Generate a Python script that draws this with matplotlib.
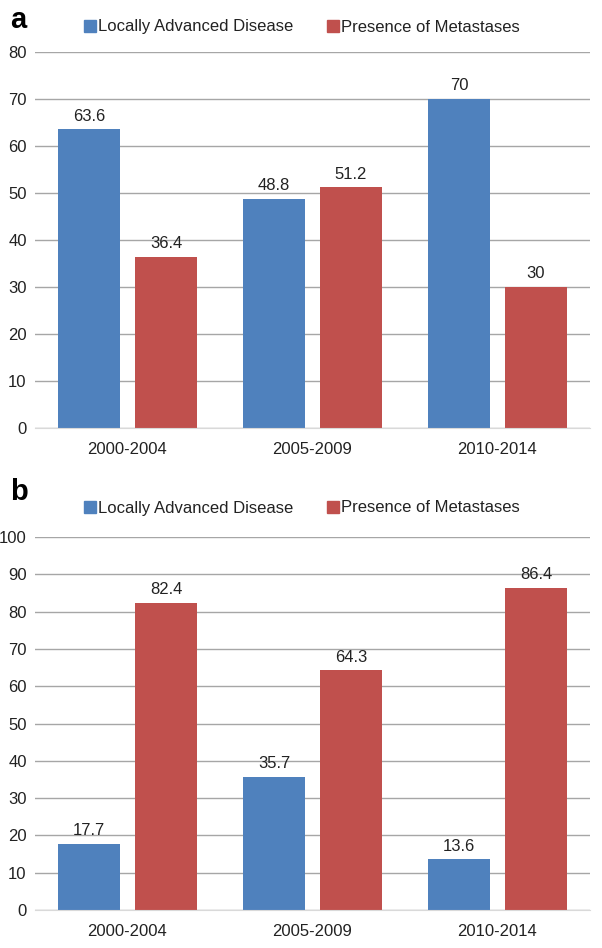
import matplotlib
matplotlib.use("Agg")
import matplotlib.pyplot as plt
import numpy as np
from matplotlib.patches import Patch

categories = ["2000-2004", "2005-2009", "2010-2014"]
series_names = ["Locally Advanced Disease", "Presence of Metastases"]
a_local = [63.6, 48.8, 70]
a_meta = [36.4, 51.2, 30]
b_local = [17.7, 35.7, 13.6]
b_meta = [82.4, 64.3, 86.4]
colors = ["#4F81BD", "#C0504D"]

plt.rcParams['font.family'] = ['Liberation Sans', 'DejaVu Sans']

fig = plt.figure(figsize=(6.02, 9.48), dpi=100)

def panel(rect, local, meta, ymax, letter, letter_y, legend_y):
    ax = fig.add_axes(rect)
    x = np.arange(len(categories))
    w = 0.335
    off = 0.208
    for vals, c, s in [(local, colors[0], -off), (meta, colors[1], off)]:
        bars = ax.bar(x + s, vals, width=w, color=c, zorder=3)
        for b, v in zip(bars, vals):
            ax.annotate(f"{v:g}", (b.get_x() + b.get_width() / 2, v),
                        xytext=(0, 4), textcoords="offset points",
                        ha="center", va="bottom", fontsize=12, color="#222222")
    ax.set_xlim(-0.5, 2.5)
    ax.set_ylim(0, ymax)
    ax.set_yticks(np.arange(0, ymax + 1, 10))
    ax.set_xticks(x)
    ax.set_xticklabels(categories)
    ax.tick_params(length=0, labelsize=12, colors="#222222")
    ax.tick_params(axis='x', pad=10)
    ax.tick_params(axis='y', pad=6)
    ax.grid(axis='y', color="#A6A6A6", linewidth=1, zorder=0)
    for sp in ["top", "right", "left"]:
        ax.spines[sp].set_visible(False)
    ax.spines["bottom"].set_color("#D9D9D9")
    ax.spines["bottom"].set_zorder(4)
    fig.text(10 / 602, letter_y, letter, fontsize=21, fontweight="bold",
             ha="left", va="center")
    handles = [Patch(color=colors[0]), Patch(color=colors[1])]
    ax.legend(handles, series_names, loc="center", ncol=2,
              bbox_to_anchor=(302 / 602, legend_y), bbox_transform=fig.transFigure,
              frameon=False, fontsize=12, handlelength=0.7, handleheight=0.7,
              handletextpad=0.15, columnspacing=2.0, labelcolor="#222222")
    return ax

panel([35 / 602, 520 / 948, 555 / 602, 376 / 948], a_local, a_meta, 80, "a",
      1 - 20 / 948, 1 - 27 / 948)
panel([35 / 602, 38 / 948, 555 / 602, 373 / 948], b_local, b_meta, 100, "b",
      1 - 492 / 948, 1 - 508 / 948)

fig.savefig("out.png", dpi=100)
